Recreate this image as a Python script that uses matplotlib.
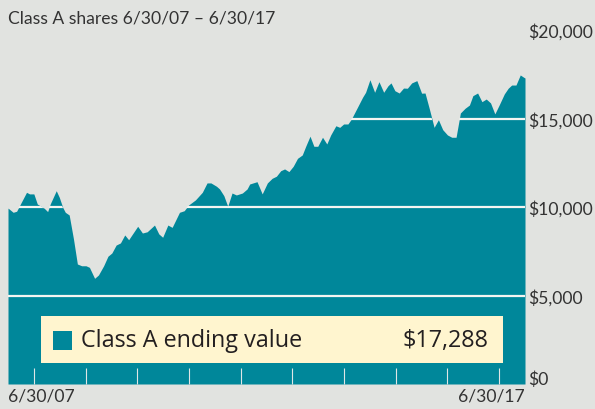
import matplotlib
matplotlib.use('Agg')
import matplotlib.pyplot as plt
import matplotlib.transforms as mtransforms
from matplotlib.patches import Rectangle
import numpy as np

# hypothetical $10,000 investment, months since 6/30/07
months = [0, 1.2, 2.0, 4.3, 5.0, 6.0, 6.8, 8.4, 9.2, 9.8, 11.2, 11.9, 12.7, 13.3, 14.2,
          15.2, 16.1, 17.1, 18.1, 18.9, 20.1, 21.0, 22.2, 23.2, 24.1, 25.1, 26.1, 27.1,
          28.0, 30.1, 31.2, 32.3, 34.0, 35.0, 35.9, 37.1, 38.1, 39.8, 40.9, 41.9, 43.5,
          45.1, 46.2, 47.1, 48.4, 49.1, 50.1, 51.0, 52.0, 53.0, 54.4, 55.5, 56.1, 57.8,
          59.0, 60.2, 61.3, 62.3, 63.3, 64.2, 65.2, 66.2, 67.2, 68.3, 69.1, 70.1, 71.0,
          71.9, 73.0, 74.0, 74.9, 76.1, 77.0, 77.9, 78.9, 79.7, 81.1, 82.3, 83.0, 84.0,
          85.1, 86.1, 87.2, 88.2, 88.9, 89.8, 90.8, 91.8, 92.7, 93.7, 94.9, 96.0, 96.8,
          97.8, 98.9, 99.9, 100.9, 102.0, 103.0, 104.0, 105.0, 106.1, 107.1, 107.9, 109.0,
          110.0, 111.0, 112.0, 113.0, 114.0, 115.2, 116.1, 116.9, 117.9, 118.9, 119.7, 120]
values = [9940, 9700, 9760, 10830, 10740, 10740, 10170, 9930, 9740, 10170, 10920, 10550,
          9980, 9700, 9550, 8190, 6780, 6680, 6680, 6590, 5970, 6160, 6680, 7220, 7400,
          7850, 7970, 8420, 8150, 8910, 8530, 8600, 8980, 8480, 8290, 8980, 8850, 9700,
          9790, 10110, 10400, 10830, 11360, 11360, 11170, 11020, 10640, 10040, 10790,
          10680, 10790, 11020, 11300, 11430, 10740, 11360, 11620, 11740, 12050, 12150,
          12000, 12300, 12750, 12940, 13430, 14000, 13430, 13430, 13940, 13560, 14070,
          14590, 14500, 14690, 14690, 14970, 15630, 16200, 16480, 17190, 16480, 17080,
          16480, 16850, 17010, 16570, 16440, 16720, 16710, 17010, 17140, 16430, 16440,
          15540, 14500, 14930, 14370, 14070, 13940, 13940, 15310, 15580, 15760, 16290,
          16440, 15950, 16100, 15880, 15260, 15760, 16390, 16710, 16890, 16890, 17460,
          17330, 17288]

y_ticks = [0, 5000, 10000, 15000, 20000]
y_labels = ['$0', '$5,000', '$10,000', '$15,000', '$20,000']
grid_levels = [5000, 10000, 15000]
year_ticks = np.arange(6, 120, 12)
start_label = '6/30/07'
end_label = '6/30/17'
title = 'Class A shares 6/30/07 \u2013 6/30/17'
series_name = 'Class A ending value'

bg = '#e1e3e0'
teal = '#00879a'
cream = '#fff5cf'
txt = '#333333'

W, H = 595, 410
fig = plt.figure(figsize=(W / 100, H / 100), dpi=100)
fig.patch.set_facecolor(bg)
ax = fig.add_axes([8 / W, 25 / H, 517 / W, 354 / H])
ax.set_facecolor(bg)
for s in ax.spines.values():
    s.set_visible(False)

area = ax.fill_between(months, 0, values, color=teal, lw=0, zorder=1)
ax.set_xlim(0, 120)
ax.set_ylim(0, 20000)

# white rules, only visible where the area is
clip = area.get_paths()[0]
for g in grid_levels:
    ln = ax.axhline(g, color='#f4f5f2', lw=1.6, zorder=2)
    ln.set_clip_path(clip, ax.transData)

ax.set_xticks(year_ticks)
ax.set_xticklabels([])
ax.tick_params(axis='x', direction='in', length=11.5, width=0.8, color='#dfe6e6')

ax.yaxis.tick_right()
ax.set_yticks(y_ticks)
ax.set_yticklabels(y_labels, family='Lato', fontsize=12.6, color=txt)
ax.tick_params(axis='y', length=0, pad=2)
# lift the $0 label off the baseline
lbl0 = ax.get_yticklabels()[0]
lbl0.set_transform(lbl0.get_transform() + mtransforms.ScaledTranslation(0, 7 / 100, fig.dpi_scale_trans))

ax.text(0, -0.033, start_label, transform=ax.transAxes, ha='left', va='center',
        family='Lato', fontsize=12.6, color=txt)
ax.text(1, -0.033, end_label, transform=ax.transAxes, ha='right', va='center',
        family='Lato', fontsize=12.6, color=txt)
fig.text(8 / W, 1 - 19 / H, title, ha='left', va='center', family='Lato',
         fontsize=12.6, color=txt)

# ending value box
ax.add_patch(Rectangle((33 / 517, 21 / 354), 462 / 517, 47 / 354, transform=ax.transAxes,
                       facecolor=cream, edgecolor='none', zorder=3))
ax.add_patch(Rectangle((45 / 517, 34 / 354), 19 / 517, 19 / 354, transform=ax.transAxes,
                       facecolor=teal, edgecolor='none', zorder=4))
ax.text(73 / 517, 44 / 354, series_name, transform=ax.transAxes, ha='left', va='center',
        family='Open Sans', fontsize=16.8, color='#231f20', zorder=5)
ax.text(480 / 517, 44 / 354, '${:,.0f}'.format(values[-1]), transform=ax.transAxes,
        ha='right', va='center', family='Open Sans', fontsize=16.8, color='#231f20', zorder=5)

fig.savefig('out.png', dpi=100, facecolor=bg)
